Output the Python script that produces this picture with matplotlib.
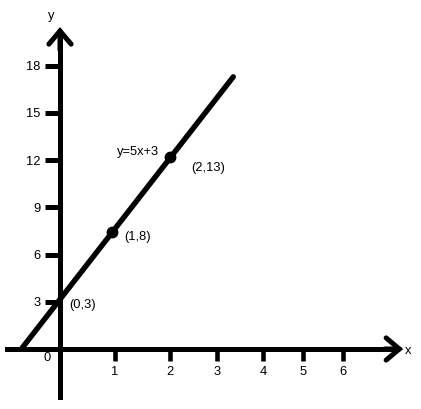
import matplotlib
matplotlib.use("Agg")
import matplotlib.pyplot as plt

# Hand-drawn axes: the x ticks are not evenly spaced in the picture,
# so their positions are kept as drawn.
x_tick_pos = [1.0, 2.0, 2.85, 3.69, 4.42, 5.15]
x_tick_labels = ["1", "2", "3", "4", "5", "6"]
y_tick_pos = [3, 6, 9, 12, 15, 18]
y_tick_labels = ["3", "6", "9", "12", "15", "18"]

# y = 5x + 3, end points as drawn
line_x = [-0.69, 3.15]
line_y = [0.06, 17.28]

# marked points (where the dots sit in the drawing)
point_x = [0.95, 2.0]
point_y = [7.43, 12.19]
point_labels = ["(1,8)", "(2,13)"]

intercept = (-0.04, 2.98)
intercept_label = "(0,3)"
eq_label = "y=5x+3"

FS = 9.3
INK = "black"
plt.rcParams["font.family"] = ["Liberation Sans", "DejaVu Sans"]

fig = plt.figure(figsize=(4.21, 4.09), dpi=100)
ax = fig.add_axes([0, 0, 1, 1])
ax.set_xlim(-60 / 55, 361 / 55)
ax.set_ylim(-60 / 15.75, 349 / 15.75)

# axes through the origin
for side in ("top", "right"):
    ax.spines[side].set_visible(False)
ax.spines["left"].set_position(("data", 0))
ax.spines["bottom"].set_position(("data", 0))
ax.spines["left"].set_bounds(-3.05, 20.0)
ax.spines["bottom"].set_bounds(-0.96, 6.0)
for side in ("left", "bottom"):
    ax.spines[side].set_linewidth(3.6)

arrow = dict(arrowstyle="->,head_length=0.95,head_width=0.8", lw=3.6,
             color=INK, shrinkA=0, shrinkB=0, mutation_scale=10,
             joinstyle="miter")
ax.annotate("", xy=(0, 20.44), xytext=(0, 19.0), arrowprops=arrow)
ax.annotate("", xy=(6.24, 0), xytext=(5.9, 0), arrowprops=arrow)

ax.set_xticks(x_tick_pos, x_tick_labels)
ax.set_yticks(y_tick_pos, y_tick_labels)
ax.tick_params(axis="y", direction="out", length=11, width=3.6, pad=3,
               labelsize=FS, colors=INK)
ax.tick_params(axis="x", direction="out", length=8.6, width=3.3, pad=3.5,
               labelsize=FS, colors=INK)

ax.text(-0.164, 21.14, "y", fontsize=FS, ha="center", va="center", color=INK)
ax.text(6.33, -0.13, "x", fontsize=FS, ha="center", va="center", color=INK)
ax.text(-0.236, -0.57, "0", fontsize=FS, ha="center", va="center", color=INK)

# the line and its points
ax.plot(line_x, line_y, color=INK, lw=3.9, solid_capstyle="round", zorder=3)
ax.plot(point_x, point_y, "o", color=INK, ms=7.5, zorder=4)

offsets = [(18, -3.6), (27.4, -7.9)]
for px, py, lab, off in zip(point_x, point_y, point_labels, offsets):
    ax.annotate(lab, (px, py), xytext=off, textcoords="offset points",
                fontsize=FS, ha="center", va="center", color=INK)
ax.annotate(intercept_label, intercept, xytext=(18, -2.2),
            textcoords="offset points", fontsize=FS, ha="center",
            va="center", color=INK)
ax.text(1.418, 12.51, eq_label, fontsize=FS, ha="center", va="center",
        color=INK)

fig.savefig("out.png", dpi=100)
